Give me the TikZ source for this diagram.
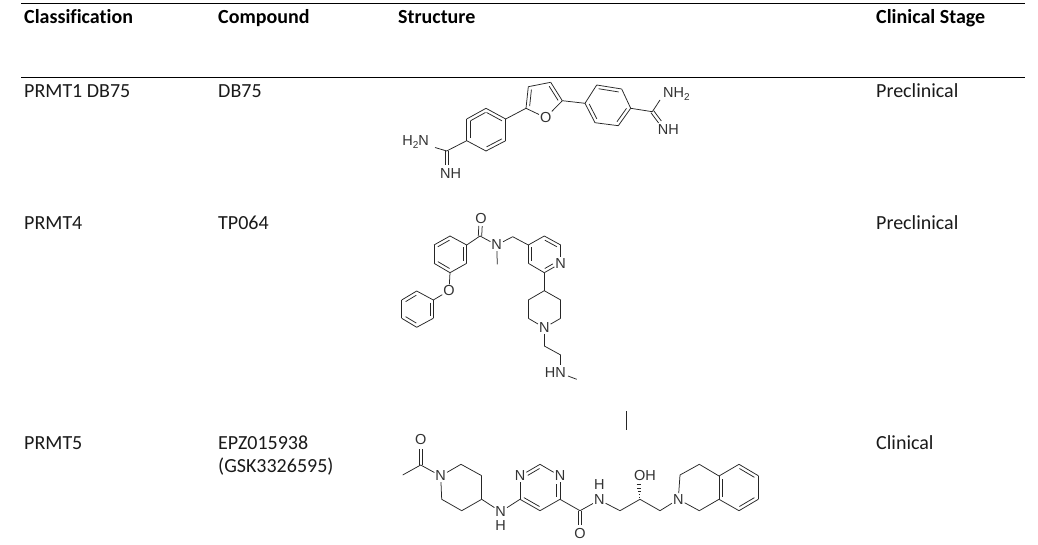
\documentclass[tikz,border=0pt]{standalone}
\usepackage{fontspec}
\setmainfont[Ligatures=NoCommon]{Carlito}
\newfontfamily\chemfont{Liberation Sans}
\usetikzlibrary{calc}
\definecolor{txt}{HTML}{1A1A1A}
\definecolor{chem}{HTML}{333333}
\tikzset{
  cell/.style={anchor=base west,inner sep=0pt,font=\fontsize{20}{24}\selectfont,text=txt},
  head/.style={cell,font=\fontsize{20}{24}\selectfont\bfseries,text=black},
  rule/.style={line width=0.9pt,black},
  bond/.style={line width=0.75pt,black!85},
  atom/.style={inner sep=0.9pt,font=\fontsize{14.5}{16}\selectfont\chemfont,text=chem},
}
\newcommand{\carb}[3]{\coordinate (#1) at (#2,#3);}
\newcommand{\atm}[4]{\node[atom] (#1) at (#2,#3) {#4};}
% inner bond on the right-hand side of a->b as seen on the page
\newcommand{\dblR}[4]{\draw[bond,shorten <=#3pt,shorten >=#4pt] ($(#1)!3.4pt!-90:(#2)$) -- ($(#2)!3.4pt!90:(#1)$);}
\newcommand{\dblC}[2]{\draw[bond] ($(#1)!1.7pt!-90:(#2)$) -- ($(#2)!1.7pt!90:(#1)$);\draw[bond] ($(#1)!1.7pt!90:(#2)$) -- ($(#2)!1.7pt!-90:(#1)$);}
\newcommand{\bonds}[1]{\foreach \p/\q in {#1} \draw[bond] (\p) -- (\q);}
\begin{document}
\begin{tikzpicture}[x=1pt,y=-1pt]
\useasboundingbox (0,0) rectangle (1038,545);
\fill[white] (0,0) rectangle (1038,545);
% table
\coordinate (r1a) at (21,3.5); \coordinate (r1b) at (1025,3.5);
\coordinate (r2a) at (21,77); \coordinate (r2b) at (1025,77);
\draw[rule] (r1a) -- (r1b);
\draw[rule] (r2a) -- (r2b);
\node[head] (h1) at (24,23.3) {Classification};
\node[head] (h2) at (218,23.3) {Compound};
\node[head] (h3) at (398,23.3) {Structure};
\node[head] (h4) at (876,23.3) {Clinical Stage};
\node[cell] (c11) at (24,97.3) {PRMT1 DB75};
\node[cell] (c12) at (218,97.3) {DB75};
\node[cell] (c14) at (876,97.3) {Preclinical};
\node[cell] (c21) at (24,229.3) {PRMT4};
\node[cell] (c22) at (218,229.3) {TP064};
\node[cell] (c24) at (876,229.3) {Preclinical};
\node[cell] (c31) at (24,449.3) {PRMT5};
\node[cell] (c32) at (218,449.3) {EPZ015938};
\node[cell] (c32b) at (218,472.3) {(GSK3326595)};
\node[cell] (c34) at (876,449.3) {Clinical};
% stray mark
\coordinate (v1) at (626.7,411); \coordinate (v2) at (626.7,430);
\draw[bond] (v1) -- (v2);

% ---------- DB75
\carb{a1}{466.7}{140.7}\carb{a2}{486}{151}\carb{a3}{505.7}{140.7}\carb{a4}{505.7}{119}\carb{a5}{486}{108.3}\carb{a6}{466.7}{119}
\carb{am}{446.7}{151}
\node[atom,anchor=east] (h2n) at (430,142) {H\raisebox{-3pt}{\fontsize{10}{10}\selectfont 2}N};
\node[atom] (nh1) at (450.7,174) {NH};
\carb{nh1t}{446.7}{165}\carb{h2ne}{435}{147.5}
\carb{f2}{526}{108.3}\carb{f3}{528.3}{86.7}\carb{f4}{550.7}{82.3}\carb{f5}{562.3}{100.7}
\atm{fo}{545.7}{117.7}{O}
\carb{b1}{585}{103.3}\carb{b2}{596.7}{85}\carb{b3}{621.7}{89}\carb{b4}{630.7}{108.3}\carb{b5}{618.3}{125.7}\carb{b6}{595}{122.7}
\carb{am2}{652.3}{111.7}
\node[atom,anchor=west] (nh2) at (662,94) {NH\raisebox{-3pt}{\fontsize{10}{10}\selectfont 2}};
\node[atom] (nh3) at (668.3,130) {NH};
\carb{nh2w}{660}{100}\carb{nh3t}{660}{122}
\bonds{a1/a2,a2/a3,a3/a4,a4/a5,a5/a6,a6/a1,a1/am,am/h2ne,a4/f2,f2/f3,f3/f4,f4/f5,f5/fo,fo/f2,f5/b1,b1/b2,b2/b3,b3/b4,b4/b5,b5/b6,b6/b1,b4/am2,am2/nh2w}
\dblC{am}{nh1t}
\dblC{am2}{nh3t}
\dblR{a6}{a5}{2.5}{2.5}\dblR{a5}{a4}{2.5}{2.5}
\dblR{a3}{a2}{2.5}{2.5}\dblR{a1}{a6}{2.5}{2.5}
\dblR{f2}{f3}{2.5}{2.5}\dblR{f4}{f5}{2.5}{2.5}
\dblR{b2}{b3}{2.5}{2.5}\dblR{b4}{b5}{2.5}{2.5}\dblR{b6}{b1}{2.5}{2.5}

% ---------- TP064
\atm{to}{481}{218.3}{O}
\carb{tc}{480}{236}
\carb{t1}{466.7}{245}\carb{t2}{450}{236}\carb{t3}{434}{245}\carb{t4}{434}{263.3}\carb{t5}{450}{272.7}\carb{t6}{466.7}{263.3}
\atm{tox}{449}{290.7}{O}
\carb{p1}{433.3}{300}\carb{p2}{416.7}{291}\carb{p3}{401.7}{300}\carb{p4}{401.7}{318.3}\carb{p5}{416.7}{327.3}\carb{p6}{433.3}{318.3}
\atm{tn}{496.7}{245}{N}
\carb{tme}{497.3}{264.3}\carb{tch}{512.7}{236.7}
\carb{y1}{528.3}{245}\carb{y2}{544.3}{236}\carb{y3}{560.7}{245}\atm{yn}{560.7}{263.3}{N}\carb{y5}{544.3}{272.7}\carb{y6}{528.3}{263.3}
\carb{q1}{544.3}{290.7}\carb{q2}{560.7}{300}\carb{q3}{560.7}{318.3}\atm{qn}{544.3}{327.7}{N}\carb{q5}{528.3}{318.3}\carb{q6}{528.3}{300}
\carb{ch1}{544.3}{346}\carb{ch2}{560.7}{355}
\node[atom,anchor=east] (thn) at (567,373) {HN};
\carb{tme2}{576.7}{379.3}
\carb{thnt}{560.7}{365}\carb{thnr}{568}{376}
\bonds{t1/t2,t2/t3,t3/t4,t4/t5,t5/t6,t6/t1,t1/tc,tc/tn,tn/tme,tn/tch,tch/y1,y1/y2,y2/y3,y3/yn,yn/y5,y5/y6,y6/y1,y5/q1,q1/q2,q2/q3,q3/qn,qn/q5,q5/q6,q6/q1,qn/ch1,ch1/ch2,ch2/thnt,thnr/tme2,t5/tox,tox/p1,p1/p2,p2/p3,p3/p4,p4/p5,p5/p6,p6/p1}
\carb{tot}{480.5}{226}
\dblC{tc}{tot}
\dblR{t3}{t2}{2.5}{2.5}\dblR{t1}{t6}{2.5}{2.5}\dblR{t5}{t4}{2.5}{2.5}
\dblR{p3}{p2}{2.5}{2.5}\dblR{p1}{p6}{2.5}{2.5}\dblR{p5}{p4}{2.5}{2.5}
\dblR{y2}{y3}{2.5}{2.5}\dblR{yn}{y5}{7}{2.5}\dblR{y6}{y1}{2.5}{2.5}

% ---------- EPZ015938
\atm{eo}{420.7}{440}{O}
\carb{ec}{420.7}{465}\carb{eme}{402.7}{475}
\atm{en}{440.7}{476}{N}
\carb{e2}{461}{464.3}\carb{e3}{481.7}{475.7}\carb{e4}{481.7}{499.3}\carb{e5}{461.7}{510.7}\carb{e6}{441.7}{499.3}
\atm{enh}{500.7}{511.7}{N}\atm{enhh}{500.7}{526}{H}
\carb{m1}{520}{499.3}\atm{mn1}{520}{476}{N}\carb{m2}{540}{464.3}\atm{mn2}{560}{476}{N}\carb{m3}{560}{499.3}\carb{m4}{540}{510.7}
\carb{ecc}{580}{510.7}\atm{eoo}{580}{534}{O}
\atm{amn}{599.3}{500}{N}\atm{amh}{599.3}{485}{H}
\carb{g1}{620}{510.7}\carb{g2}{640}{499.3}\carb{g3}{660}{510.7}
\node[atom] (oh) at (645,476) {OH};
\atm{iqn}{678.3}{499.3}{N}
\carb{i1}{699.3}{510.7}\carb{i2}{719}{499.3}\carb{i3}{719}{476}\carb{i4}{699.3}{464.3}\carb{i5}{680}{475}
\carb{j1}{739}{464.3}\carb{j2}{758.3}{475.7}\carb{j3}{758.3}{499.3}\carb{j4}{739}{510.7}
\carb{eot}{420.7}{449}\carb{eoot}{580}{525}
\bonds{ec/eme,ec/en,en/e2,e2/e3,e3/e4,e4/e5,e5/e6,e6/en,e4/enh,enh/m1,m1/mn1,mn1/m2,m2/mn2,mn2/m3,m3/m4,m4/m1,m3/ecc,ecc/amn,amn/g1,g1/g2,g2/g3,g3/iqn,iqn/i1,i1/i2,i2/i3,i3/i4,i4/i5,i5/iqn,i3/j1,j1/j2,j2/j3,j3/j4,j4/i2}
\dblC{ec}{eot}\dblC{ecc}{eoot}
\dblR{mn1}{m2}{7}{2.5}\dblR{mn2}{m3}{8}{2.5}\dblR{m4}{m1}{2.5}{2.5}
\dblR{i2}{i3}{2.5}{2.5}\dblR{j1}{j2}{2.5}{2.5}\dblR{j3}{j4}{2.5}{2.5}
% hashed stereo bond
\carb{ho}{638.5}{483}
\foreach \t/\w in {0.1/0.5,0.3/0.9,0.5/1.3,0.7/1.7,0.9/2.1}
  \draw[line width=0.6pt,black!85] ($(g2)!\t!(ho)+(-\w,0)$) -- ($(g2)!\t!(ho)+(\w,0)$);
\end{tikzpicture}
\end{document}
